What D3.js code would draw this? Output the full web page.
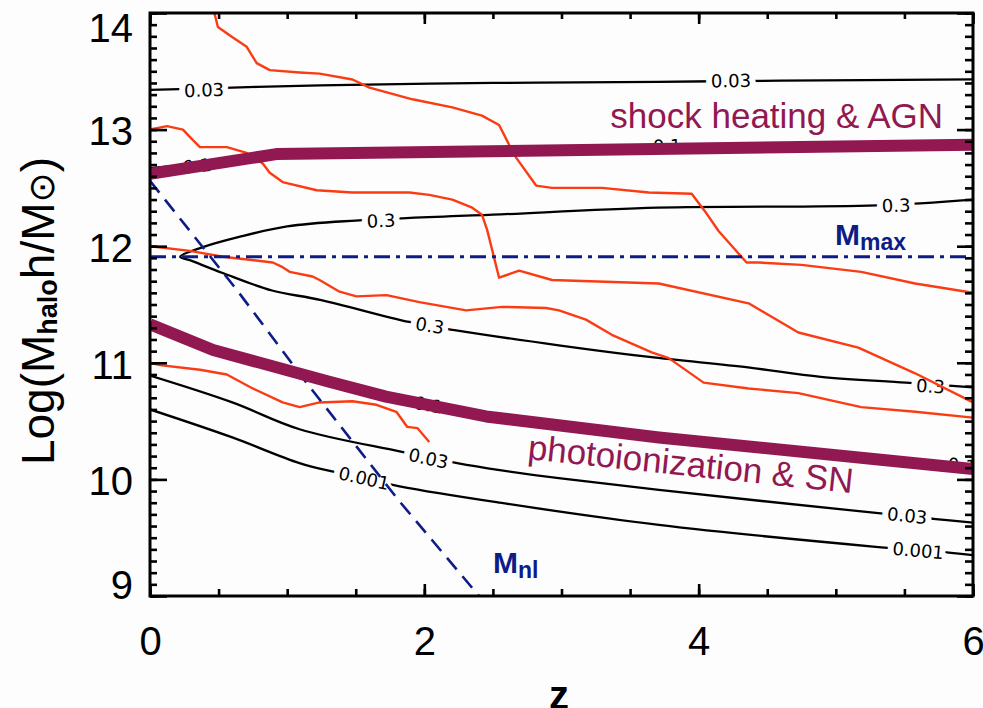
<!DOCTYPE html>
<html><head><meta charset="utf-8">
<script src="https://cdn.jsdelivr.net/npm/d3@7"></script>
<style>body{margin:0;background:#fdfdfd} svg{display:block}</style>
</head><body>
<svg id="c" width="983" height="708"></svg>
<script>
// ---------- data ----------
const xTickValues = [0, 2, 4, 6];
const yTickValues = [9, 10, 11, 12, 13, 14];
const xMinorTicks = [0, 0.5, 1, 1.5, 2, 2.5, 3, 3.5, 4, 4.5, 5, 5.5, 6];
const yMinorTicks = d3.range(90, 141).map(v => v / 10);

// thick purple transition lines
const shockZ = [0, 0.92, 6];
const shockM = [12.62, 12.79, 12.87];
const photoZ = [0, 0.46, 1.3, 1.72, 2.45, 3.71, 5.31, 6];
const photoM = [11.33, 11.11, 10.84, 10.71, 10.54, 10.36, 10.17, 10.09];

// blue lines
const mnlZ = [0, 0.63, 1.14, 1.82, 2.42];
const mnlM = [12.56, 11.63, 10.83, 9.81, 8.97];
const mmaxM = 11.91;

// black contours
const c003aZ = [0, 0.6, 1.24, 2.5, 3.7, 4.6, 6.0];
const c003aM = [13.34, 13.36, 13.38, 13.40, 13.41, 13.42, 13.43];
const c01aZ = [0, 0.3, 0.6, 1, 2, 3, 4, 5, 6];
const c01aM = [12.67, 12.70, 12.73, 12.77, 12.81, 12.84, 12.86, 12.87, 12.88];
const c03Z = [6.0, 5.3, 3.7, 2.5, 1.5, 1.0, 0.65, 0.38, 0.22, 0.29, 0.53, 0.89, 1.24, 1.89, 2.22, 2.98, 3.64, 4.36, 4.89, 5.51, 6.0];
const c03M = [12.40, 12.35, 12.33, 12.27, 12.22, 12.17, 12.08, 11.99, 11.91, 11.88, 11.77, 11.62, 11.54, 11.35, 11.28, 11.15, 11.05, 10.96, 10.88, 10.83, 10.79];
const c01bZ = [0, 0.5, 1, 2, 3, 4, 5, 6];
const c01bM = [11.31, 11.08, 10.92, 10.63, 10.45, 10.32, 10.19, 10.08];
const c003bZ = [0, 0.6, 1.09, 1.82, 2.24, 2.55, 2.98, 3.71, 5.31, 5.73, 6.0];
const c003bM = [10.89, 10.66, 10.43, 10.24, 10.14, 10.08, 10.01, 9.91, 9.71, 9.66, 9.63];
const c0001Z = [0, 0.6, 1.09, 1.36, 1.82, 2.55, 3.71, 5.31, 5.84, 6.0];
const c0001M = [10.60, 10.36, 10.14, 10.06, 9.94, 9.80, 9.61, 9.42, 9.37, 9.35];

// contour labels
const labelText = ["0.03", "0.03", "0.1", "0.1", "0.3", "0.3", "0.3", "0.3", "0.1", "0.1", "0.03", "0.03", "0.001", "0.001"];
const labelZ = [0.394, 4.236, 0.343, 3.77, 1.684, 5.44, 2.04, 5.69, 2.03, 5.92, 2.03, 5.52, 1.56, 5.6];
const labelM = [13.34, 13.42, 12.69, 12.86, 12.22, 12.35, 11.32, 10.80, 10.64, 10.12, 10.18, 9.69, 10.01, 9.39];
const labelAngle = [-2, -1, -6, -1, -2.5, -2, 10, 3.5, 10, 6, 12, 6, 12.5, 5];

// red merger-history tracks
const r1Z = [0.465, 0.495, 0.604, 0.705, 0.778, 0.873, 1.09, 1.236, 1.476, 1.6, 1.913, 2.204, 2.42, 2.545, 2.618, 2.669, 2.815, 2.93, 3.295, 3.636, 3.949, 4.058, 4.145, 4.349, 4.436, 4.749, 5.185, 5.578, 6.0];
const r1M = [14.02, 13.88, 13.79, 13.71, 13.57, 13.51, 13.49, 13.48, 13.43, 13.36, 13.26, 13.19, 13.12, 13.04, 12.87, 12.76, 12.52, 12.50, 12.50, 12.46, 12.45, 12.28, 12.13, 11.86, 11.86, 11.84, 11.78, 11.68, 11.60];
const r2Z = [0, 0.124, 0.24, 0.313, 0.364, 0.56, 0.705, 0.822, 0.873, 0.967, 1.215, 1.476, 1.891, 2.036, 2.204, 2.349, 2.42, 2.458, 2.509, 2.545, 2.691, 2.931, 3.709, 4.364, 4.727, 5.164, 5.578, 6.0];
const r2M = [13.00, 13.03, 13.00, 12.91, 12.85, 12.85, 12.80, 12.71, 12.63, 12.55, 12.48, 12.46, 12.46, 12.44, 12.40, 12.33, 12.27, 12.14, 11.90, 11.73, 11.79, 11.71, 11.68, 11.51, 11.26, 11.13, 10.91, 10.66];
const r3Z = [0, 0.291, 0.531, 0.895, 0.967, 1.018, 1.185, 1.236, 1.382, 1.505, 1.724, 1.964, 2.16, 2.305, 2.567, 2.887, 2.982, 3.178, 3.367, 3.658, 3.782, 4.036, 4.364, 4.727, 5.185, 5.578, 6.0];
const r3M = [12.00, 11.96, 11.91, 11.86, 11.82, 11.78, 11.74, 11.71, 11.61, 11.57, 11.58, 11.52, 11.48, 11.45, 11.48, 11.47, 11.45, 11.37, 11.24, 11.09, 11.04, 10.83, 10.78, 10.74, 10.62, 10.58, 10.53];
const r4Z = [0, 0.073, 0.364, 0.56, 0.749, 0.967, 1.091, 1.236, 1.476, 1.651, 1.796, 1.876, 1.949, 2.036];
const r4M = [11.00, 10.98, 10.94, 10.90, 10.78, 10.66, 10.62, 10.66, 10.67, 10.64, 10.58, 10.45, 10.44, 10.32];

// ---------- drawing ----------
const L = 150, R = 973, T = 13, B = 596;
const PURPLE = "#921852", RED = "#fa3c14", NAVY = "#0e1c86";
const svg = d3.select("#c");
const x = d3.scaleLinear().domain([0, 6]).range([L, R]);
const y = d3.scaleLinear().domain([9, 14]).range([B, T]);
const zip = (zs, ms) => zs.map((z, i) => [z, ms[i]]);

svg.append("defs").append("clipPath").attr("id", "clip")
  .append("rect").attr("x", L).attr("y", T).attr("width", R - L).attr("height", B - T);

const plot = svg.append("g").attr("clip-path", "url(#clip)");
const smooth = d3.line().x(d => x(d[0])).y(d => y(d[1])).curve(d3.curveCatmullRom.alpha(0.5));
const lin = d3.line().x(d => x(d[0])).y(d => y(d[1]));

// black contours
[[c003aZ, c003aM], [c01aZ, c01aM], [c03Z, c03M], [c01bZ, c01bM], [c003bZ, c003bM], [c0001Z, c0001M]]
  .forEach(([zs, ms]) => {
    plot.append("path").attr("d", smooth(zip(zs, ms)))
      .attr("fill", "none").attr("stroke", "#000").attr("stroke-width", 2.3);
  });

// contour labels (white halo makes the gaps in the lines)
labelText.forEach((t, i) => {
  plot.append("text")
    .attr("transform", `translate(${x(labelZ[i])},${y(labelM[i])}) rotate(${labelAngle[i]})`)
    .attr("text-anchor", "middle").attr("dy", "0.36em")
    .attr("font-family", "DejaVu Sans").attr("font-size", 18)
    .attr("fill", "#000")
    .attr("stroke", "#fdfdfd").attr("stroke-width", 12).attr("stroke-linejoin", "round")
    .attr("paint-order", "stroke")
    .text(t);
});

// red tracks
[[r1Z, r1M], [r2Z, r2M], [r3Z, r3M], [r4Z, r4M]].forEach(([zs, ms]) => {
  plot.append("path").attr("d", lin(zip(zs, ms)))
    .attr("fill", "none").attr("stroke", RED).attr("stroke-width", 2.4)
    .attr("stroke-linejoin", "round");
});

// M_max dash-dot
plot.append("line").attr("x1", x(0)).attr("x2", x(6)).attr("y1", y(mmaxM)).attr("y2", y(mmaxM))
  .attr("stroke", NAVY).attr("stroke-width", 3).attr("stroke-dasharray", "16,6,4,6");

// M_nl dashed
plot.append("path").attr("d", lin(zip(mnlZ, mnlM)))
  .attr("fill", "none").attr("stroke", NAVY).attr("stroke-width", 2.6)
  .attr("stroke-dasharray", "15,9");

// purple thick lines
[[shockZ, shockM], [photoZ, photoM]].forEach(([zs, ms]) => {
  plot.append("path").attr("d", lin(zip(zs, ms)))
    .attr("fill", "none").attr("stroke", PURPLE).attr("stroke-width", 12)
    .attr("stroke-linejoin", "round");
});

// text annotations
svg.append("text").attr("x", 943).attr("y", 128).attr("text-anchor", "end")
  .attr("font-family", "Liberation Sans, Arial, sans-serif").attr("font-size", 35)
  .attr("fill", PURPLE).text("shock heating & AGN");
svg.append("text").attr("transform", "translate(527,459) rotate(6)")
  .attr("font-family", "Liberation Sans, Arial, sans-serif").attr("font-size", 35)
  .attr("fill", PURPLE).text("photoionization & SN");

const mmax = svg.append("text").attr("x", 835).attr("y", 245)
  .attr("font-family", "Liberation Sans, Arial, sans-serif").attr("font-weight", "bold")
  .attr("font-size", 30).attr("fill", NAVY);
mmax.append("tspan").text("M");
mmax.append("tspan").attr("font-size", 23).attr("dy", 5).text("max");

const mnl = svg.append("text").attr("x", 493).attr("y", 573)
  .attr("font-family", "Liberation Sans, Arial, sans-serif").attr("font-weight", "bold")
  .attr("font-size", 30).attr("fill", NAVY);
mnl.append("tspan").text("M");
mnl.append("tspan").attr("font-size", 23).attr("dy", 5).text("nl");

// ---------- axes ----------
function styleAxis(g) {
  g.select(".domain").remove();
  g.selectAll(".tick line").attr("stroke", "#000").attr("stroke-width", 2.6);
  g.selectAll("text").attr("font-family", "Liberation Sans, Arial, sans-serif")
    .attr("font-size", 40).attr("fill", "#000");
}
const fmt = d3.format("d");
svg.append("g").attr("transform", `translate(0,${B})`)
  .call(d3.axisBottom(x).tickValues(xMinorTicks).tickSize(-7).tickFormat("")).call(styleAxis);
svg.append("g").attr("transform", `translate(0,${B})`)
  .call(d3.axisBottom(x).tickValues(xTickValues).tickSize(-12).tickPadding(31).tickFormat(fmt)).call(styleAxis);
svg.append("g").attr("transform", `translate(0,${T})`)
  .call(d3.axisTop(x).tickValues(xMinorTicks).tickSize(-6).tickFormat("")).call(styleAxis);
svg.append("g").attr("transform", `translate(0,${T})`)
  .call(d3.axisTop(x).tickValues(xTickValues).tickSize(-11).tickFormat("")).call(styleAxis);
svg.append("g").attr("transform", `translate(${L},0)`)
  .call(d3.axisLeft(y).tickValues(yMinorTicks).tickSize(-7).tickFormat("")).call(styleAxis);
const yl = svg.append("g").attr("transform", `translate(${L},0)`)
  .call(d3.axisLeft(y).tickValues(yTickValues).tickSize(-17).tickPadding(17).tickFormat(fmt)).call(styleAxis);
yl.selectAll(".tick text").attr("dy", d => d === 14 ? "0.7em" : d === 9 ? "0.05em" : "0.38em");
svg.append("g").attr("transform", `translate(${R},0)`)
  .call(d3.axisRight(y).tickValues(yMinorTicks).tickSize(-8).tickFormat("")).call(styleAxis);
svg.append("g").attr("transform", `translate(${R},0)`)
  .call(d3.axisRight(y).tickValues(yTickValues).tickSize(-16).tickFormat("")).call(styleAxis);

// frame
svg.append("rect").attr("x", L).attr("y", T).attr("width", R - L).attr("height", B - T)
  .attr("fill", "none").attr("stroke", "#000").attr("stroke-width", 3);

// axis titles
svg.append("text").attr("x", 559).attr("y", 709).attr("text-anchor", "middle")
  .attr("font-family", "Liberation Sans, Arial, sans-serif").attr("font-weight", "bold")
  .attr("font-size", 40).attr("fill", "#000").text("z");

const yt = svg.append("text").attr("transform", "translate(54,311) rotate(-90)")
  .attr("text-anchor", "middle")
  .attr("font-family", "Liberation Sans, Arial, sans-serif").attr("font-size", 46).attr("fill", "#000");
yt.append("tspan").text("Log(M");
yt.append("tspan").attr("font-size", 27).attr("font-weight", "bold").attr("dy", 3).text("halo");
yt.append("tspan").attr("dy", -3).text("h/M");
yt.append("tspan").attr("font-family", "DejaVu Sans").attr("font-size", 36).text("⊙");
yt.append("tspan").text(")");
</script>
</body></html>
